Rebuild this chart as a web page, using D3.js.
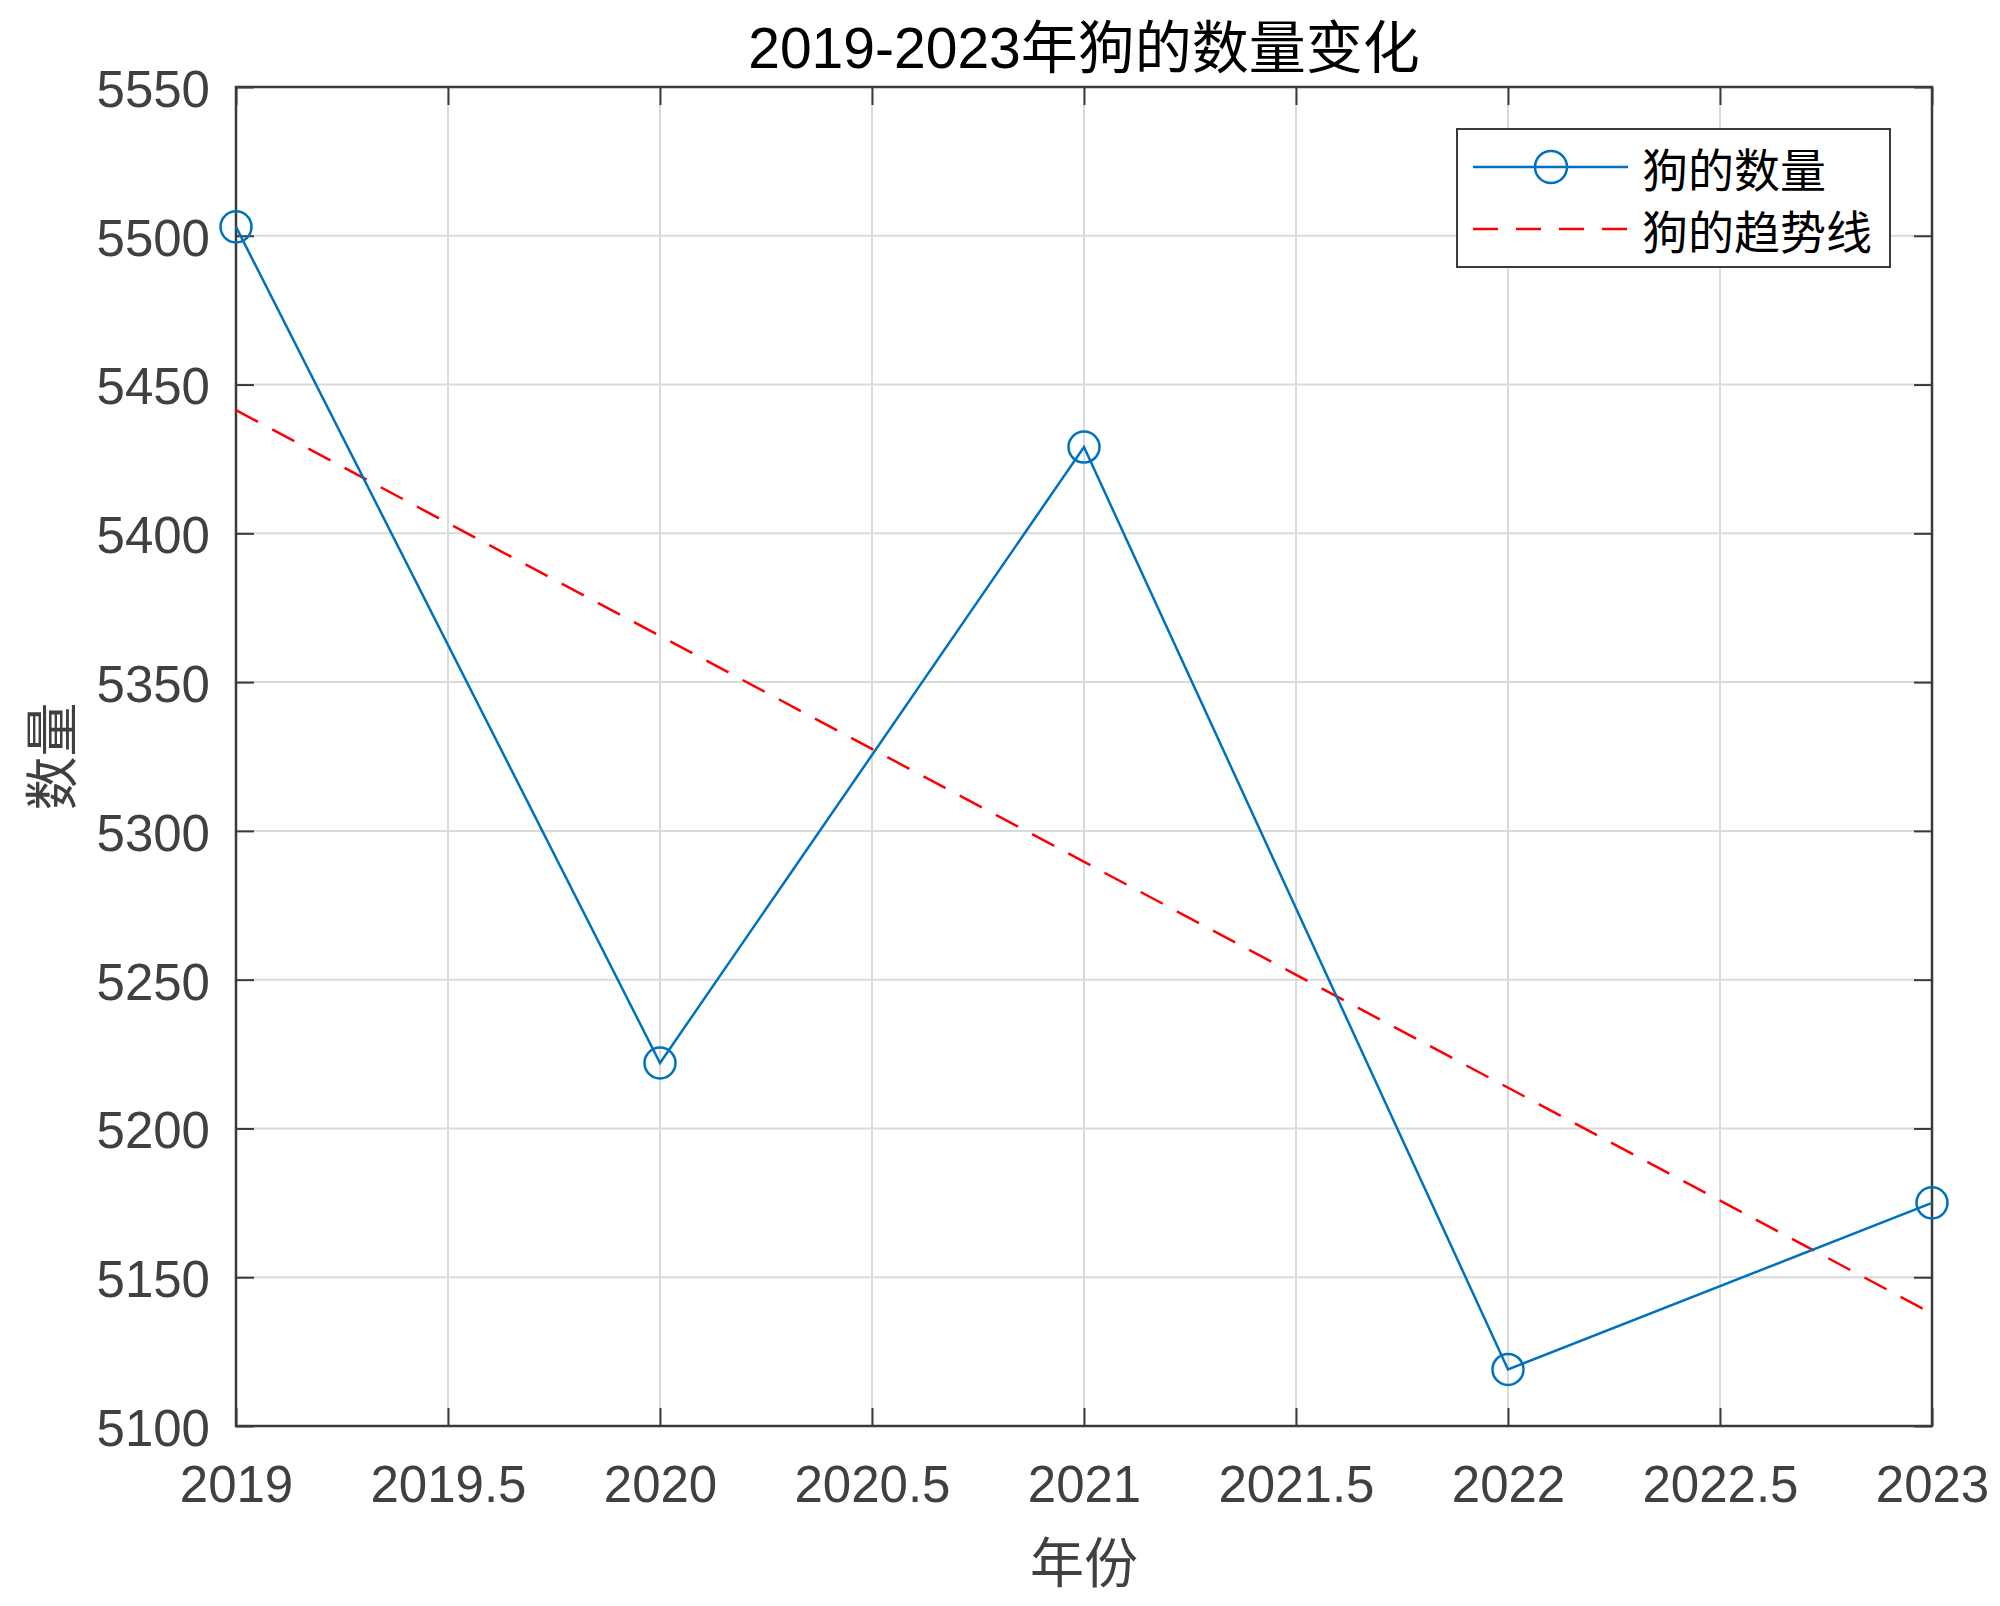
<!DOCTYPE html>
<html>
<meta charset="utf-8">
<head>
<script src="https://cdn.jsdelivr.net/npm/d3@7/dist/d3.min.js"></script>
<style>
  body { margin: 0; background: #fff; }
  svg { display: block; }
</style>
</head>
<body>
<div id="chart"></div>
<script>
// data
var years = [2019, 2020, 2021, 2022, 2023];
var dogs = [5503, 5222, 5429, 5119, 5175];
var trendYears = [2019, 2023];
var trendValues = [5441.4, 5137.8];
var xTicks = [2019, 2019.5, 2020, 2020.5, 2021, 2021.5, 2022, 2022.5, 2023];
var yTicks = [5100, 5150, 5200, 5250, 5300, 5350, 5400, 5450, 5500, 5550];
var seriesNames = ["狗的数量", "狗的趋势线"];

var W = 2000, H = 1606;
// plot box (window.top is reserved, so use other names)
var pL = 236, pR = 1932, pT = 87, pB = 1426;
var axisColor = "#3a3a3a";
var latin = "'Liberation Sans', Arial, 'Noto Sans CJK SC', sans-serif";
var cjk = "'Noto Sans CJK SC', 'Liberation Sans', sans-serif";

var svg = d3.select("#chart").append("svg")
    .attr("width", W)
    .attr("height", H);

var x = d3.scaleLinear().domain([2019, 2023]).range([pL, pR]);
var y = d3.scaleLinear().domain([5100, 5550]).range([pB, pT]);

// grid
var grid = svg.append("g");
grid.selectAll(".gx").data(xTicks).enter().append("line")
    .attr("x1", function(d) { return x(d); })
    .attr("x2", function(d) { return x(d); })
    .attr("y1", pT).attr("y2", pB)
    .attr("stroke", "#dadada").attr("stroke-width", 2);
grid.selectAll(".gy").data(yTicks).enter().append("line")
    .attr("y1", function(d) { return y(d); })
    .attr("y2", function(d) { return y(d); })
    .attr("x1", pL).attr("x2", pR)
    .attr("stroke", "#dadada").attr("stroke-width", 2);

// axes (inward ticks, mirrored on top / right)
var fmt = function(d) { return String(d); };
var xb = svg.append("g").attr("transform", "translate(0," + pB + ")")
    .call(d3.axisBottom(x).tickValues(xTicks).tickFormat(fmt).tickSizeInner(-18).tickSizeOuter(0).tickPadding(40));
var xt = svg.append("g").attr("transform", "translate(0," + pT + ")")
    .call(d3.axisTop(x).tickValues(xTicks).tickFormat("").tickSizeInner(-18).tickSizeOuter(0));
var yl = svg.append("g").attr("transform", "translate(" + pL + ",0)")
    .call(d3.axisLeft(y).tickValues(yTicks).tickFormat(fmt).tickSizeInner(-18).tickSizeOuter(0).tickPadding(26));
var yr = svg.append("g").attr("transform", "translate(" + pR + ",0)")
    .call(d3.axisRight(y).tickValues(yTicks).tickFormat("").tickSizeInner(-18).tickSizeOuter(0));

[xb, xt, yl, yr].forEach(function(g) {
    g.select(".domain").remove();
    g.selectAll(".tick line").attr("stroke", axisColor).attr("stroke-width", 2);
    g.selectAll(".tick text")
        .attr("fill", "#404040")
        .style("font-family", latin)
        .style("font-size", "51px");
});
yl.selectAll(".tick text").attr("dy", "0.38em");

svg.append("rect")
    .attr("x", pL).attr("y", pT)
    .attr("width", pR - pL).attr("height", pB - pT)
    .attr("fill", "none")
    .attr("stroke", axisColor)
    .attr("stroke-width", 2.5);

// trend line
svg.append("path")
    .datum(trendYears.map(function(d, i) { return [d, trendValues[i]]; }))
    .attr("d", d3.line().x(function(d) { return x(d[0]); }).y(function(d) { return y(d[1]); }))
    .attr("fill", "none")
    .attr("stroke", "#ff0000")
    .attr("stroke-width", 2.5)
    .attr("stroke-dasharray", "25,16");

// data line
var pts = years.map(function(d, i) { return [d, dogs[i]]; });
svg.append("path")
    .datum(pts)
    .attr("d", d3.line().x(function(d) { return x(d[0]); }).y(function(d) { return y(d[1]); }))
    .attr("fill", "none")
    .attr("stroke", "#0072bd")
    .attr("stroke-width", 2.5);

svg.selectAll(".pt").data(pts).enter().append("circle")
    .attr("cx", function(d) { return x(d[0]); })
    .attr("cy", function(d) { return y(d[1]); })
    .attr("r", 15.5)
    .attr("fill", "none")
    .attr("stroke", "#0072bd")
    .attr("stroke-width", 2.5);

// title and labels
svg.append("text")
    .attr("x", (pL + pR) / 2).attr("y", 68)
    .attr("text-anchor", "middle")
    .style("font-family", latin)
    .style("font-size", "57px")
    .attr("fill", "#000")
    .text("2019-2023年狗的数量变化");

svg.append("text")
    .attr("x", (pL + pR) / 2).attr("y", 1559)
    .attr("text-anchor", "middle")
    .attr("dominant-baseline", "central")
    .style("font-family", cjk)
    .style("font-size", "54px")
    .attr("fill", "#404040")
    .text("年份");

svg.append("text")
    .attr("transform", "translate(48," + (pT + pB) / 2 + ") rotate(-90)")
    .attr("text-anchor", "middle")
    .attr("dominant-baseline", "central")
    .style("font-family", cjk)
    .style("font-size", "54px")
    .attr("fill", "#404040")
    .text("数量");

// legend
var lg = svg.append("g");
lg.append("rect")
    .attr("x", 1457).attr("y", 129)
    .attr("width", 433).attr("height", 138)
    .attr("fill", "#fff")
    .attr("stroke", axisColor)
    .attr("stroke-width", 2);

var rows = [167, 229];
lg.append("line")
    .attr("x1", 1473).attr("x2", 1628).attr("y1", rows[0]).attr("y2", rows[0])
    .attr("stroke", "#0072bd").attr("stroke-width", 2.5);
lg.append("circle")
    .attr("cx", 1551).attr("cy", rows[0]).attr("r", 16)
    .attr("fill", "none").attr("stroke", "#0072bd").attr("stroke-width", 2.5);
lg.append("line")
    .attr("x1", 1473).attr("x2", 1628).attr("y1", rows[1]).attr("y2", rows[1])
    .attr("stroke", "#ff0000").attr("stroke-width", 2.5)
    .attr("stroke-dasharray", "25,18");

lg.selectAll(".lt").data(seriesNames).enter().append("text")
    .attr("x", 1642)
    .attr("y", function(d, i) { return rows[i]; })
    .attr("dominant-baseline", "central")
    .style("font-family", cjk)
    .style("font-size", "46px")
    .attr("fill", "#000")
    .text(function(d) { return d; });
</script>
</body>
</html>
